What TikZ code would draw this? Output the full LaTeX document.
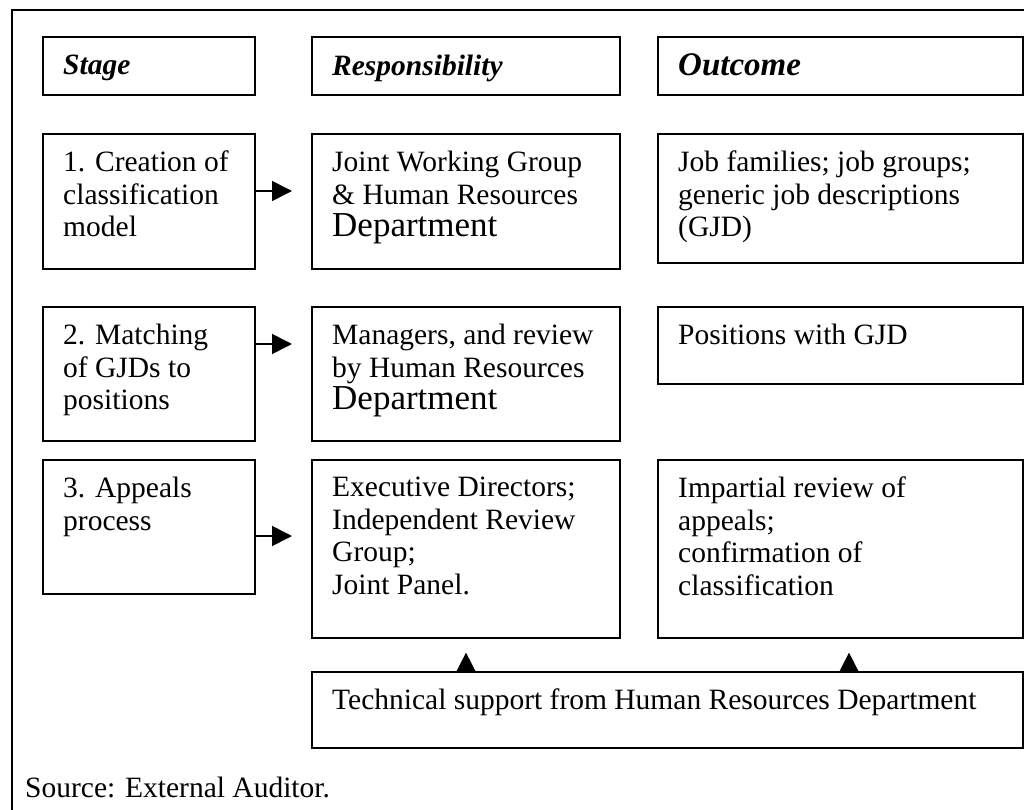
\documentclass[tikz,border=0pt]{standalone}
\usepackage{fontspec}
\setmainfont{Liberation Serif}
\usetikzlibrary{arrows.meta}

\tikzset{
  cell/.style={draw, line width=1.6pt, inner sep=0pt, anchor=north west},
  celltext/.style={anchor=north west, inner sep=0pt, align=left,
    font=\fontsize{29.5}{32.5}\selectfont},
  flow/.style={line width=1.6pt, -{Triangle[length=20pt,width=20pt]}},
}

\begin{document}
\begin{tikzpicture}[x=1pt, y=-1pt]
  \useasboundingbox (0,0) rectangle (1024,810);

  % Outer frame (runs off at right and bottom)
  \draw[line width=1.6pt] (12,830) -- (12,10) -- (1040,10);

  % Column heads
  \node[cell, minimum width=212, minimum height=58] (hstage) at (42,36) {};
  \node[cell, minimum width=308, minimum height=58] (hresp) at (311,36) {};
  \node[cell, minimum width=365, minimum height=58] (hout) at (657,36) {};
  \node[celltext] (hstage-t) at ([shift={(21pt,-19pt)}]hstage.north west) {\textbf{\textit{Stage}}};
  \node[celltext] (hresp-t) at ([shift={(21pt,-19pt)}]hresp.north west) {\textbf{\textit{Responsibility}}};
  \node[celltext, font=\fontsize{33}{36}\selectfont] (hout-t) at ([shift={(21pt,-17pt)}]hout.north west) {\textbf{\textit{Outcome}}};

  % Stage 1
  \node[cell, minimum width=212, minimum height=135] (st1) at (42,133) {};
  \node[cell, minimum width=308, minimum height=135] (rs1) at (311,133) {};
  \node[cell, minimum width=365, minimum height=129] (oc1) at (657,133) {};
  \node[celltext] (st1-t) at ([shift={(21pt,-18pt)}]st1.north west) {1. Creation of\\classification\\model};
  \node[celltext] (rs1-t) at ([shift={(21pt,-18pt)}]rs1.north west) {Joint Working Group\\\& Human Resources\\{\fontsize{35}{32.5}\selectfont Department}};
  \node[celltext] (oc1-t) at ([shift={(21pt,-18pt)}]oc1.north west) {Job families; job groups;\\generic job descriptions\\(GJD)};

  % Stage 2
  \node[cell, minimum width=212, minimum height=134] (st2) at (42,306) {};
  \node[cell, minimum width=308, minimum height=134] (rs2) at (311,306) {};
  \node[cell, minimum width=365, minimum height=77] (oc2) at (657,306) {};
  \node[celltext] (st2-t) at ([shift={(21pt,-18pt)}]st2.north west) {2. Matching\\of GJDs to\\positions};
  \node[celltext] (rs2-t) at ([shift={(21pt,-18pt)}]rs2.north west) {Managers, and review\\by Human Resources\\{\fontsize{35}{32.5}\selectfont Department}};
  \node[celltext] (oc2-t) at ([shift={(21pt,-18pt)}]oc2.north west) {Positions with GJD};

  % Stage 3
  \node[cell, minimum width=212, minimum height=134] (st3) at (42,459) {};
  \node[cell, minimum width=308, minimum height=178] (rs3) at (311,459) {};
  \node[cell, minimum width=365, minimum height=178] (oc3) at (657,459) {};
  \node[celltext] (st3-t) at ([shift={(21pt,-18pt)}]st3.north west) {3. Appeals\\process};
  \node[celltext] (rs3-t) at ([shift={(21pt,-18pt)}]rs3.north west) {Executive Directors;\\Independent Review\\Group;\\Joint Panel.};
  \node[celltext] (oc3-t) at ([shift={(21pt,-18pt)}]oc3.north west) {Impartial review of\\appeals;\\confirmation of\\classification};

  % Support box
  \node[cell, minimum width=711, minimum height=76] (tech) at (311,671) {};
  \node[celltext] (tech-t) at ([shift={(21pt,-18pt)}]tech.north west) {Technical support from Human Resources Department};

  % Arrows
  \draw[flow, shorten >=19pt] (st1.east |- 0,191) -- (rs1.west |- 0,191);
  \draw[flow, shorten >=19pt] (st2.east |- 0,344) -- (rs2.west |- 0,344);
  \draw[flow, shorten >=19pt] (st3.east |- 0,536) -- (rs3.west |- 0,536);
  \draw[flow, shorten >=14pt] (tech.north -| 466,0) -- (rs3.south -| 466,0);
  \draw[flow, shorten >=14pt] (tech.north -| 849,0) -- (oc3.south -| 849,0);

  \node[celltext, anchor=base west] (src) at (25,797) {Source: External Auditor.};
\end{tikzpicture}
\end{document}
